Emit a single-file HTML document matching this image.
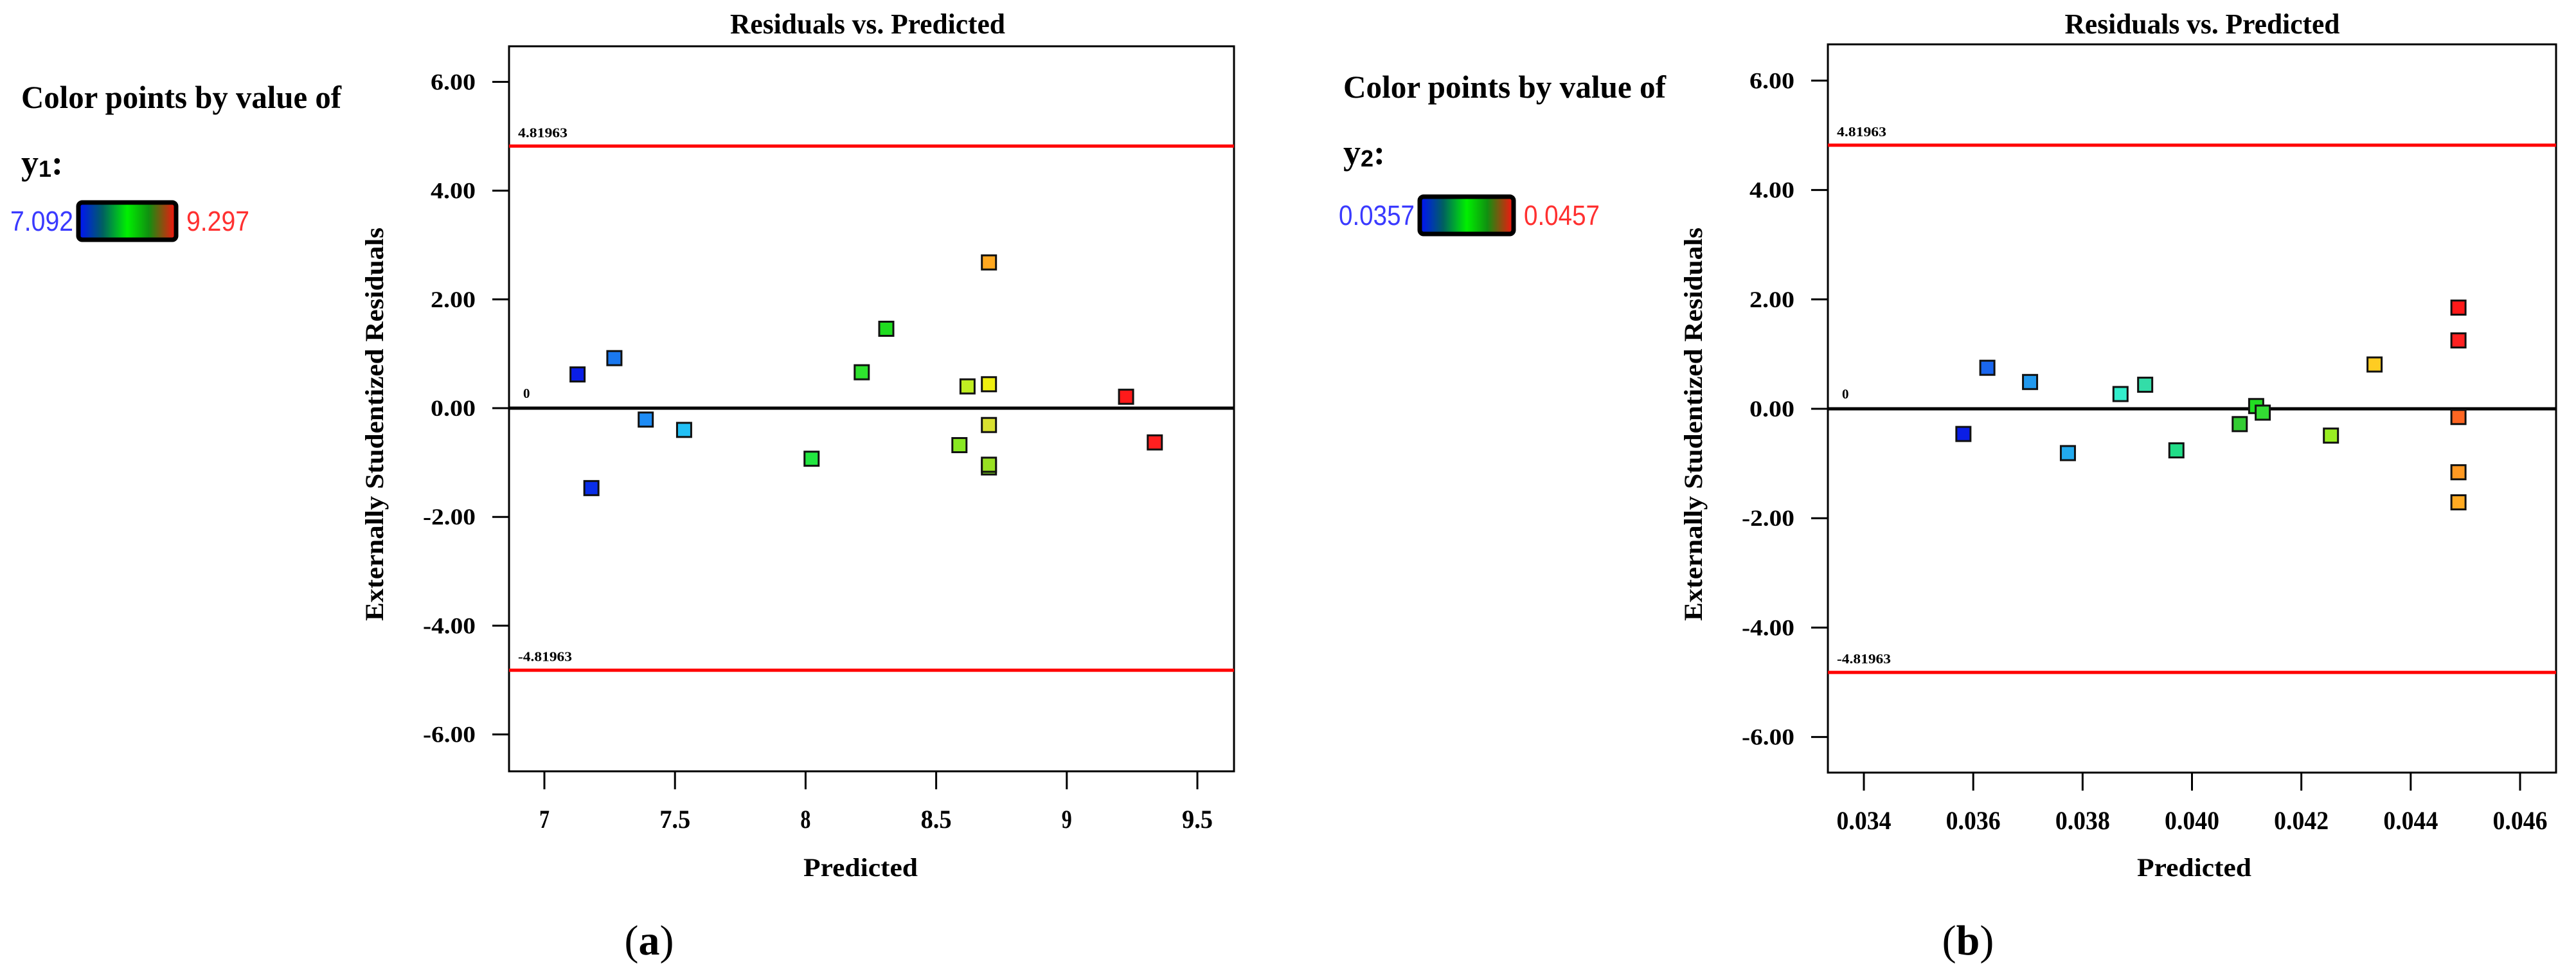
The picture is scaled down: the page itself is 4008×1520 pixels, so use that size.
<!DOCTYPE html>
<html><head><meta charset="utf-8"><style>
html,body{margin:0;padding:0;background:#fff;}
svg{display:block;}
text{font-family:"Liberation Serif",serif;font-weight:bold;fill:#000;}
.sans{font-family:"Liberation Sans",sans-serif;font-weight:normal;}
</style></head><body>
<svg id="fig" width="4008" height="1520" viewBox="0 0 4008 1520" xmlns="http://www.w3.org/2000/svg">
<defs>
<linearGradient id="cg" x1="0" x2="1" y1="0" y2="0">
<stop offset="0" stop-color="#0010ff"/><stop offset="0.25" stop-color="#006060"/><stop offset="0.5" stop-color="#00f000"/><stop offset="0.72" stop-color="#109010"/><stop offset="1" stop-color="#ff1010"/>
</linearGradient>
</defs>
</svg>
<script>
// ---- Panel (a) data ----
const aPredicted = [7.127, 7.18, 7.268, 7.388, 7.535, 8.023, 8.215, 8.309, 8.589, 8.62, 8.702, 8.702, 8.702, 8.702, 8.702, 9.227, 9.337];
const aResiduals = [0.62, -1.47, 0.92, -0.21, -0.40, -0.93, 0.66, 1.46, -0.68, 0.40, 0.44, 2.68, -0.31, -1.09, -1.04, 0.21, -0.63];
const aColors = ["#0a1ee6","#0a2ee8","#1a78f0","#1e8cf5","#22c0f5","#22e640","#2ee22e","#20dc20","#88e822","#c0ee22","#eeee11","#ffa820","#d8e030","#80dc20","#98e022","#ff1a1a","#ff2020"];
const aXTicks = [7, 7.5, 8, 8.5, 9, 9.5];
const aXTickLabels = ["7","7.5","8","8.5","9","9.5"];
// ---- Panel (b) data ----
const bPredicted = [0.03582, 0.036258, 0.037039, 0.037731, 0.038693, 0.039144, 0.039715, 0.040873, 0.041174, 0.041294, 0.042541, 0.043339, 0.044873, 0.044873, 0.044873, 0.044873, 0.044873];
const bResiduals = [-0.46, 0.75, 0.49, -0.81, 0.27, 0.44, -0.76, -0.28, 0.05, -0.07, -0.49, 0.81, 1.85, 1.25, -0.15, -1.16, -1.71];
const bColors = ["#0a1ee6","#1a66ee","#2299ee","#22aaee","#33eecc","#33dda8","#22dd88","#33cc33","#22dd22","#33dd33","#99ee22","#ffcc22","#ff1a1a","#ff2222","#ff6622","#ff9922","#ffaa22"];
const bXTicks = [0.034, 0.036, 0.038, 0.040, 0.042, 0.044, 0.046];
const bXTickLabels = ["0.034","0.036","0.038","0.040","0.042","0.044","0.046"];
// ---- shared ----
const yTicks = [6, 4, 2, 0, -2, -4, -6];
const yTickLabels = ["6.00","4.00","2.00","0.00","-2.00","-4.00","-6.00"];
const limitValue = 4.81963;

const NS = "http://www.w3.org/2000/svg";
const svg = document.getElementById("fig");
function mk(tag, attrs, parent, txt){
  const e = document.createElementNS(NS, tag);
  for (const k in attrs) e.setAttribute(k, attrs[k]);
  if (txt !== undefined) e.textContent = txt;
  (parent || svg).appendChild(e);
  return e;
}

function panel(cfg){
  const g = mk("g", {});
  
  
  const L = cfg.left, R = cfg.right, T = cfg.top, B = cfg.bottom;
  const xs = v => cfg.x0px + (v - cfg.x0) * (cfg.x1px - cfg.x0px) / (cfg.x1 - cfg.x0);
  const ys = v => cfg.zeroPx - v * cfg.unitPx;

  const lt = mk("text", {x: cfg.legX, y: cfg.legY, "font-size": 50, textLength: cfg.legW, lengthAdjust: "spacingAndGlyphs"}, g, "Color points by value of");
  
  
  const vy = mk("text", {x: cfg.legX, y: cfg.legY + 103, "font-size": 54}, g);
  
  
  mk("tspan", {}, vy, "y");
  mk("tspan", {"font-family": "Liberation Sans, sans-serif", "font-size": 36, dy: 4}, vy, cfg.sub);
  mk("tspan", {dy: -4}, vy, ":");
  const bar = mk("rect", {x: cfg.barX, y: cfg.barY, width: cfg.barW, height: 58, rx: 6, fill: "url(#cg)", stroke: "#000", "stroke-width": 7}, g);
  
  
  const lo = mk("text", {x: cfg.barX - 8, y: cfg.barY + 44, "font-size": 44, "text-anchor": "end", "class": "sans", style: "fill:#3a3aff", textLength: cfg.minW, lengthAdjust: "spacingAndGlyphs"}, g, cfg.minLabel);
  
  
  const hi = mk("text", {x: cfg.barX + cfg.barW + 16, y: cfg.barY + 44, "font-size": 44, "class": "sans", style: "fill:#ff3030", textLength: cfg.maxW, lengthAdjust: "spacingAndGlyphs"}, g, cfg.maxLabel);
  
  

  const ti = mk("text", {x: (L + R) / 2 + cfg.titleDx, y: 52, "font-size": 44, "text-anchor": "middle", textLength: 428, lengthAdjust: "spacingAndGlyphs"}, g, "Residuals vs. Predicted");
  
  

  const box = mk("rect", {x: L, y: T, width: R - L, height: B - T, fill: "#fff", stroke: "#000", "stroke-width": 3}, g);
  
  

  yTicks.forEach((v, i) => {
    const tk = mk("line", {x1: L - 26, x2: L, y1: ys(v), y2: ys(v), stroke: "#000", "stroke-width": 3}, g);
    
    
    const lb = mk("text", {x: L - 52, y: ys(v) + 12, "font-size": 36, "text-anchor": "end", textLength: yTickLabels[i].length > 4 ? 82 : 70, lengthAdjust: "spacingAndGlyphs"}, g, yTickLabels[i]);
    
    
  });
  cfg.xTicks.forEach((v, i) => {
    const tk = mk("line", {x1: xs(v), x2: xs(v), y1: B, y2: B + 28, stroke: "#000", "stroke-width": 3}, g);
    
    
    const lb = mk("text", {x: xs(v), y: B + 88, "font-size": 40, "text-anchor": "middle", textLength: cfg.xLabelW * cfg.xTickLabels[i].length, lengthAdjust: "spacingAndGlyphs"}, g, cfg.xTickLabels[i]);
    
    
  });

  [limitValue, -limitValue].forEach(v => {
    const ln = mk("line", {x1: L, x2: R, y1: ys(v), y2: ys(v), stroke: "#ff0000", "stroke-width": 5}, g);
    
    
    const lb = mk("text", {x: L + 14, y: ys(v) - 14, "font-size": 21, textLength: v > 0 ? 77 : 84, lengthAdjust: "spacingAndGlyphs"}, g, v > 0 ? "4.81963" : "-4.81963");
    
    
  });
  const zl = mk("line", {x1: L, x2: R, y1: ys(0), y2: ys(0), stroke: "#000", "stroke-width": 5}, g);
  
  
  const zlb = mk("text", {x: L + 22, y: ys(0) - 16, "font-size": 21}, g, "0");
  
  

  cfg.px.forEach((v, i) => {
    const s = 22;
    const p = mk("rect", {x: xs(v) - s / 2, y: ys(cfg.py[i]) - s / 2, width: s, height: s, fill: cfg.colors[i], stroke: "#111", "stroke-width": 3}, g);
    
    
  });

  const yt = mk("text", {x: 0, y: 0, "font-size": 40, "text-anchor": "middle", textLength: 612, lengthAdjust: "spacingAndGlyphs", transform: `translate(${cfg.yTitleX},660) rotate(-90)`}, g, "Externally Studentized Residuals");
  
  
  const xt = mk("text", {x: cfg.xTitleX, y: 1363, "font-size": 40, "text-anchor": "middle", textLength: 178, lengthAdjust: "spacingAndGlyphs"}, g, "Predicted");
  
  

  const cp = mk("text", {x: cfg.capX, y: 1485, "font-size": 66, "text-anchor": "middle", style: "font-weight:normal"}, g);
  
  
  mk("tspan", {}, cp, "(");
  mk("tspan", {style: "font-weight:bold"}, cp, cfg.id);
  mk("tspan", {}, cp, ")");
}

panel({id: "a", left: 792, right: 1920, top: 72, bottom: 1200,
  x0: 7, x1: 9.5, x0px: 847, x1px: 1863, zeroPx: 635, unitPx: 84.6,
  xTicks: aXTicks, xTickLabels: aXTickLabels, xLabelW: 16,
  px: aPredicted, py: aResiduals, colors: aColors,
  legX: 33, legY: 168, legW: 498, sub: "1", barX: 122, barY: 315, barW: 152,
  minLabel: "7.092", maxLabel: "9.297", minW: 98, maxW: 98,
  titleDx: -6, yTitleX: 596, xTitleX: 1339, capX: 1010});

panel({id: "b", left: 2844, right: 3977, top: 69, bottom: 1202,
  x0: 0.034, x1: 0.046, x0px: 2900, x1px: 3921, zeroPx: 636, unitPx: 85.1,
  xTicks: bXTicks, xTickLabels: bXTickLabels, xLabelW: 17,
  px: bPredicted, py: bResiduals, colors: bColors,
  legX: 2090, legY: 152, legW: 502, sub: "2", barX: 2209, barY: 306, barW: 146,
  minLabel: "0.0357", maxLabel: "0.0457", minW: 118, maxW: 118,
  titleDx: 16, yTitleX: 2648, xTitleX: 3414, capX: 3062});
</script>
</body></html>
